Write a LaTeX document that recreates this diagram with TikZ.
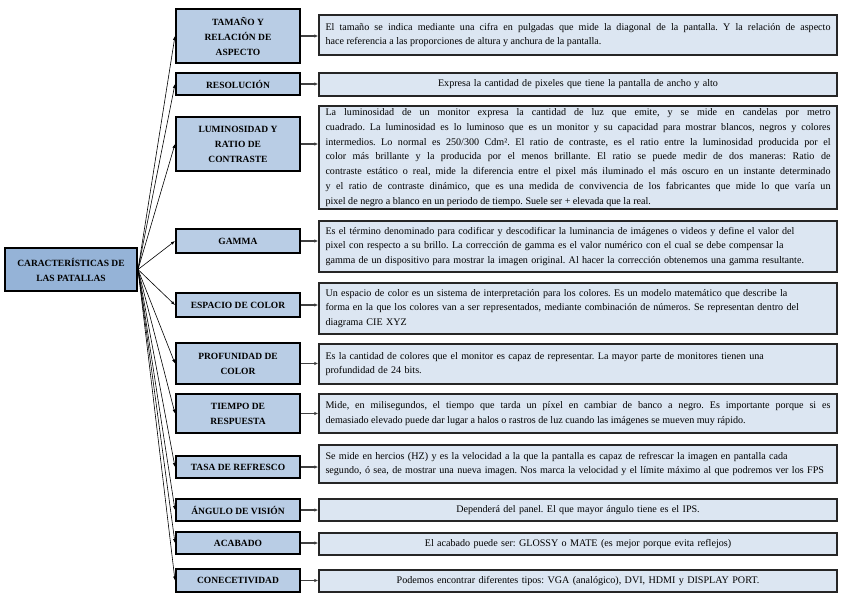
\documentclass[tikz,border=0pt]{standalone}
\usepackage{fontspec}
\setmainfont{Liberation Serif}
\usetikzlibrary{arrows.meta}
\definecolor{rootblue}{HTML}{95B3D7}
\definecolor{catblue}{HTML}{B9CDE5}
\definecolor{descblue}{HTML}{DCE6F2}
\frenchspacing
\tikzset{
  rootbox/.style={draw=black, line width=2pt, fill=rootblue, minimum width=132pt, minimum height=43pt, inner sep=0pt, align=center, font=\bfseries\fontsize{9.5}{15}\selectfont},
  catbox/.style={draw=black, line width=2pt, fill=catblue, minimum width=124pt, inner sep=0pt, align=center, font=\bfseries\fontsize{9.5}{15}\selectfont},
  descbox/.style={draw=black!85, line width=1.5pt, fill=descblue, minimum width=518pt, inner xsep=6.5pt, inner ysep=0pt, text width=505pt, font=\frenchspacing\fontsize{10.1}{14.7}\selectfont},
  rarrow/.style={-{Latex[length=4pt,width=3pt]}, line width=0.6pt, draw=black},
  carrow/.style={-{Latex[length=4pt,width=3.5pt]}, line width=1.2pt, draw=black!75}
}
\begin{document}
\begin{tikzpicture}[x=1pt,y=-1pt]
\useasboundingbox (0,0) rectangle (848,599);
% root
\node[rootbox] (root) at (71,269.5) {CARACTERÍSTICAS DE\\LAS PATALLAS};
% categories
\node[catbox, minimum height=54pt] (c1) at (238,36) {TAMAÑO Y\\RELACIÓN DE\\ASPECTO};
\node[catbox, minimum height=22pt] (c2) at (238,84) {RESOLUCIÓN};
\node[catbox, minimum height=54pt] (c3) at (238,144) {LUMINOSIDAD Y\\RATIO DE\\CONTRASTE};
\node[catbox, minimum height=24pt] (c4) at (238,241) {GAMMA};
\node[catbox, minimum height=24pt] (c5) at (238,305) {ESPACIO DE COLOR};
\node[catbox, minimum height=41pt] (c6) at (238,363.5) {PROFUNIDAD DE\\COLOR};
\node[catbox, minimum height=39pt] (c7) at (238,413.5) {TIEMPO DE\\RESPUESTA};
\node[catbox, minimum height=22pt] (c8) at (238,467) {TASA DE REFRESCO};
\node[catbox, minimum height=22pt] (c9) at (238,510) {ÁNGULO DE VISIÓN};
\node[catbox, minimum height=22pt] (c10) at (238,543) {ACABADO};
\node[catbox, minimum height=23pt] (c11) at (238,580.5) {CONECETIVIDAD};
% descriptions
\node[descbox, minimum height=40pt, align=justify] (d1) at (578,35) {El tamaño se indica mediante una cifra en pulgadas que mide la diagonal de la pantalla. Y la relación de aspecto\linebreak hace referencia a las proporciones de altura y anchura de la pantalla.};
\node[descbox, minimum height=23pt, align=center] (d2) at (578,84.5) {Expresa la cantidad de pixeles que tiene la pantalla de ancho y alto};
\node[descbox, minimum height=103pt, align=justify] (d3) at (578,157.5) {La luminosidad de un monitor expresa la cantidad de luz que emite, y se mide en candelas por metro\linebreak cuadrado. La luminosidad es lo luminoso que es un monitor y su capacidad para mostrar blancos, negros y colores\linebreak intermedios. Lo normal es 250/300 Cdm². El ratio de contraste, es el ratio entre la luminosidad producida por el\linebreak color más brillante y la producida por el menos brillante. El ratio se puede medir de dos maneras: Ratio de\linebreak contraste estático o real, mide la diferencia entre el pixel más iluminado el más oscuro en un instante determinado\linebreak y el ratio de contraste dinámico, que es una medida de convivencia de los fabricantes que mide lo que varía un\linebreak pixel de negro a blanco en un periodo de tiempo. Suele ser + elevada que la real.};
\node[descbox, minimum height=51pt, align=left] (d4) at (578,246.5) {Es el término denominado para codificar y descodificar la luminancia de imágenes o videos y define el valor del\\pixel con respecto a su brillo. La corrección de gamma es el valor numérico con el cual se debe compensar la\\gamma de un dispositivo para mostrar la imagen original. Al hacer la corrección obtenemos una gamma resultante.};
\node[descbox, minimum height=51pt, align=left] (d5) at (578,308.5) {Un espacio de color es un sistema de interpretación para los colores. Es un modelo matemático que describe la\\forma en la que los colores van a ser representados, mediante combinación de números. Se representan dentro del\\diagrama CIE XYZ};
\node[descbox, minimum height=40pt, align=left] (d6) at (578,364) {Es la cantidad de colores que el monitor es capaz de representar. La mayor parte de monitores tienen una\\profundidad de 24 bits.};
\node[descbox, minimum height=39pt, align=justify] (d7) at (578,413.5) {Mide, en milisegundos, el tiempo que tarda un píxel en cambiar de banco a negro. Es importante porque si es\linebreak demasiado elevado puede dar lugar a halos o rastros de luz cuando las imágenes se mueven muy rápido.};
\node[descbox, minimum height=38pt, align=left] (d8) at (578,464) {Se mide en hercios (HZ) y es la velocidad a la que la pantalla es capaz de refrescar la imagen en pantalla cada\\segundo, ó sea, de mostrar una nueva imagen. Nos marca la velocidad y el límite máximo al que podremos ver los FPS};
\node[descbox, minimum height=22pt, align=center] (d9) at (578,510) {Dependerá del panel. El que mayor ángulo tiene es el IPS.};
\node[descbox, minimum height=22pt, align=center] (d10) at (578,544) {El acabado puede ser: GLOSSY o MATE (es mejor porque evita reflejos)};
\node[descbox, minimum height=22pt, align=center] (d11) at (578,581) {Podemos encontrar diferentes tipos: VGA (analógico), DVI, HDMI y DISPLAY PORT.};
% connectors root -> categories
\foreach \i in {1,...,11} {
  \draw[rarrow] (root.east) -- (c\i.west);
}
% connectors categories -> descriptions
\foreach \i in {1,...,11} {
  \draw[carrow] (c\i.east) -- (c\i.east -| d\i.west);
}
\end{tikzpicture}
\end{document}
